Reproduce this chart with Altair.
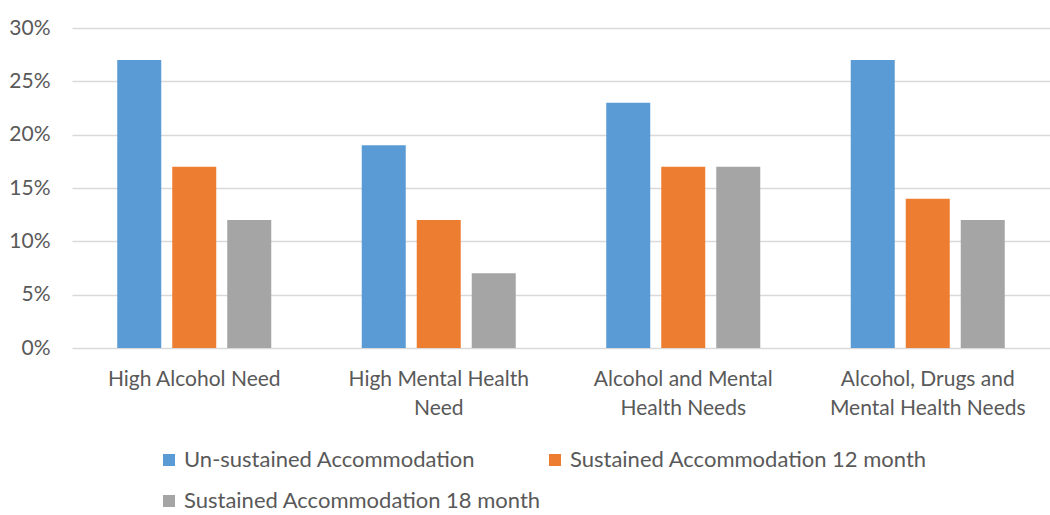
import altair as alt
import pandas as pd

categories = ["High Alcohol Need", "High Mental Health\nNeed", "Alcohol and Mental\nHealth Needs", "Alcohol, Drugs and\nMental Health Needs"]
series = ["Un-sustained Accommodation", "Sustained Accommodation 12 month", "Sustained Accommodation 18 month"]
unsustained = [0.27, 0.19, 0.23, 0.27]
sustained12 = [0.17, 0.12, 0.17, 0.14]
sustained18 = [0.12, 0.07, 0.17, 0.12]
colors = ["#5B9BD5", "#ED7D31", "#A5A5A5"]

rows = []
for s, vals in zip(series, [unsustained, sustained12, sustained18]):
    for c, v in zip(categories, vals):
        rows.append({"category": c, "series": s, "value": v})
df = pd.DataFrame(rows)

FONT = "Lato"
TXT = "#595959"

chart = alt.Chart(df).mark_bar().encode(
    x=alt.X("category:N", sort=categories, title=None,
            scale=alt.Scale(paddingInner=0, paddingOuter=0),
            axis=alt.Axis(labelExpr="split(datum.label, '\\n')", labelAngle=0,
                          labelFont=FONT, labelFontSize=21, labelColor=TXT,
                          labelPadding=20, labelLineHeight=29, labelBaseline="top",
                          labelLimit=300, ticks=False, domain=False, grid=False)),
    xOffset=alt.XOffset("series:N", sort=series,
                        scale=alt.Scale(paddingInner=0.2, paddingOuter=0.8225)),
    y=alt.Y("value:Q", title=None,
            scale=alt.Scale(domain=[0, 0.30]),
            axis=alt.Axis(format=".0%", values=[0, 0.05, 0.10, 0.15, 0.20, 0.25, 0.30],
                          labelFont=FONT, labelFontSize=21, labelColor=TXT,
                          labelPadding=22, ticks=False, domain=False,
                          grid=True, gridColor="#D9D9D9", gridWidth=1.3)),
    color=alt.Color("series:N", sort=series, title=None,
                    scale=alt.Scale(domain=series, range=colors),
                    legend=alt.Legend(orient="none", legendX=86, legendY=421,
                                      direction="horizontal",
                                      columns=2, columnPadding=3, rowPadding=19,
                                      symbolType="square", symbolSize=144,
                                      symbolStrokeWidth=0, labelFont=FONT,
                                      labelFontSize=22, labelColor=TXT,
                                      labelLimit=400, symbolOffset=0)),
).properties(
    width=978, height=320,
    autosize=alt.AutoSizeParams(type="none"),
    padding={"left": 72, "top": 28, "right": 0, "bottom": 167},
).configure_view(stroke=None)

chart.save("out.html", embed_options={"renderer": "svg", "actions": False})
